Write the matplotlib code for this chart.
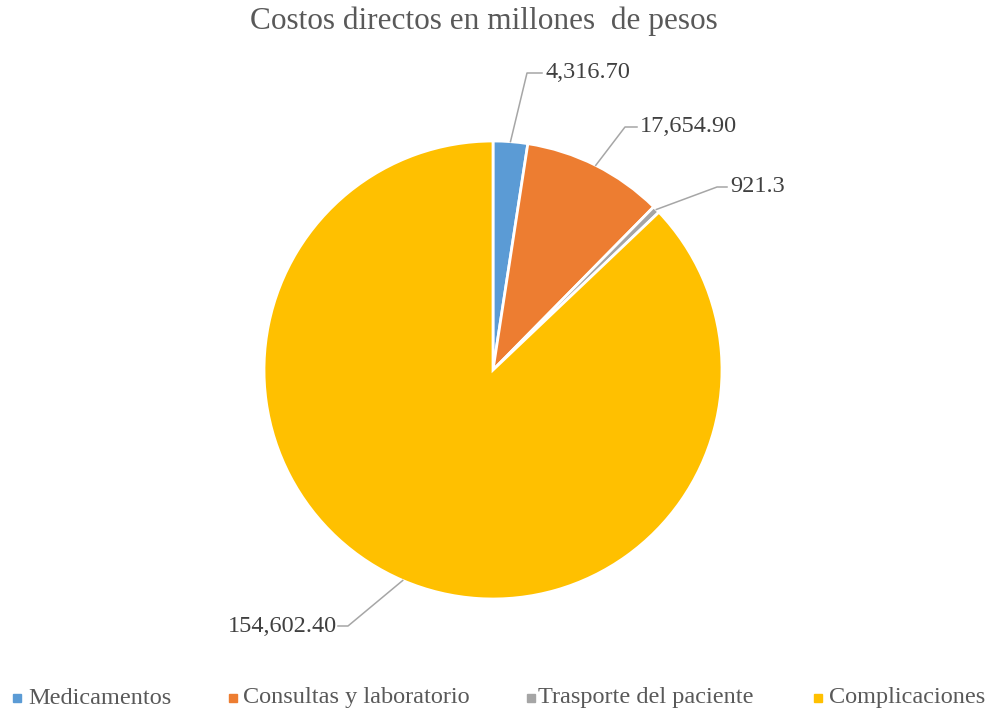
import numpy as np
import matplotlib.pyplot as plt
from matplotlib.patches import Rectangle

categorias = ['Medicamentos', 'Consultas y laboratorio', 'Trasporte del paciente', 'Complicaciones']
costos = [4316.70, 17654.90, 921.3, 154602.40]
etiquetas = ['4,316.70', '17,654.90', '921.3', '154,602.40']
colores = ['#5B9BD5', '#ED7D31', '#A5A5A5', '#FFC000']

plt.rcParams['font.family'] = ['Liberation Serif', 'DejaVu Serif']

W, H = 986, 712
cx, cy, r = 493, 370, 229  # pie centre / radius in pixels

fig = plt.figure(figsize=(W / 100, H / 100), dpi=100)
ax = fig.add_axes([(cx - r) / W, (H - cy - r) / H, 2 * r / W, 2 * r / H])

wedges, _ = ax.pie(costos, colors=colores, startangle=90, counterclock=False,
                   wedgeprops=dict(edgecolor='white', linewidth=2))
ax.set_xlim(-1, 1)
ax.set_ylim(-1, 1)
ax.axis('off')

# leader lines: start at the wedge middle, elbow and label placed in pixels
codos = [(527, 73), (625, 127), (717, 187), (348, 626)]
finales = [(542, 73), (637, 127), (727, 187), (338, 626)]
for w, lab, (ex, ey), (fx, fy) in zip(wedges, etiquetas, codos, finales):
    ang = np.deg2rad((w.theta1 + w.theta2) / 2)
    sx, sy = np.cos(ang), np.sin(ang)
    px = [sx, (ex - cx) / r, (fx - cx) / r]
    py = [sy, (cy - ey) / r, (cy - fy) / r]
    ax.plot(px, py, color='#A6A6A6', lw=1.1, clip_on=False)
    ha = 'left' if fx > ex else 'right'
    off = 3 / r if ha == 'left' else -1 / r
    ax.text(px[-1] + off, py[-1], lab, ha=ha, va='center', fontsize=17.5,
            color='#404040')

fig.text(0.491, 1 - 21 / H, 'Costos directos en millones  de pesos', ha='center',
         va='center', fontsize=22.5, color='#595959')

# legend along the bottom
marca_x = [13, 229, 527, 814]
texto_x = [28, 243, 538, 829]
for mx, tx, nombre, col in zip(marca_x, texto_x, categorias, colores):
    fig.patches.append(Rectangle((mx / W, (H - 702) / H), 8 / W, 8 / H,
                                 transform=fig.transFigure, color=col))
    fig.text(tx / W, 1 - 698 / H, nombre, ha='left', va='center',
             fontsize=17.5, color='#595959')

fig.savefig('out.png', dpi=100)
